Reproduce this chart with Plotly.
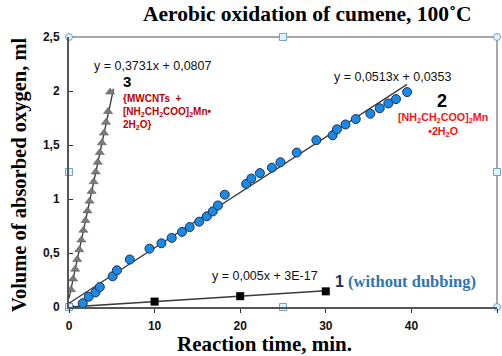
import plotly.graph_objects as go

# ---------------- data ----------------
# series 1: without dubbing (squares)
s1_x = [0, 10, 20, 30]
s1_y = [0, 0.05, 0.10, 0.145]

# series 2: [NH2CH2COO]2Mn·2H2O (circles)
s2_x = [0, 1.6, 2.3, 3.1, 3.6, 5.1, 5.6, 7.1, 9.4, 10.8, 12.0, 13.2, 14.1, 15.2, 16.1,
        16.8, 17.4, 18.2, 20.7, 21.3, 22.3, 23.7, 24.7, 26.6, 28.9, 30.8, 31.3, 32.3,
        33.5, 35.2, 36.3, 37.3, 38.2, 39.5]
s2_y = [0, 0.035, 0.095, 0.135, 0.185, 0.285, 0.34, 0.44, 0.54, 0.59, 0.64, 0.695, 0.74,
        0.79, 0.84, 0.885, 0.94, 1.04, 1.14, 1.19, 1.24, 1.29, 1.34, 1.43, 1.545, 1.59,
        1.645, 1.69, 1.74, 1.79, 1.84, 1.885, 1.925, 1.99]

# series 3: MWCNTs + [NH2CH2COO]2Mn·2H2O (triangles)
s3_x = [0, 0.24, 0.48, 0.72, 0.96, 1.2, 1.44, 1.68, 1.92, 2.16, 2.4, 2.64, 2.88, 3.12,
        3.36, 3.6, 3.84, 4.08, 4.32, 4.56, 4.8]
s3_y = [0, 0.16, 0.26, 0.35, 0.44, 0.53, 0.62, 0.71, 0.80, 0.89, 0.98, 1.07, 1.16, 1.25,
        1.34, 1.43, 1.52, 1.61, 1.71, 1.81, 1.99]

# trendline coefficients (slope, intercept) and x-ranges
trend_names = ["1", "2", "3"]
trend_slope = [0.005, 0.0513, 0.3731]
trend_icpt = [3e-17, 0.0353, 0.0807]
trend_xmin = [0, 0, 0]
trend_xmax = [30, 39.5, 5.2]

x_ticks = [0, 10, 20, 30, 40, 50]
y_ticks = [0, 0.5, 1, 1.5, 2, 2.5]
y_tick_text = ["0", "0,5", "1", "1,5", "2", "2,5"]

# ---------------- figure ----------------
W, H = 502, 356
L, R, T, B = 68.5, 5, 36.5, 48.5
pw, ph = W - L - R, H - T - B


def px(xp):
    return (xp - L) / pw


def py(yp):
    return 1 - (yp - T) / ph


fig = go.Figure()

# trendlines
for i in range(3):
    xs = [trend_xmin[i], trend_xmax[i]]
    ys = [trend_slope[i] * v + trend_icpt[i] for v in xs]
    fig.add_trace(go.Scatter(x=xs, y=ys, mode="lines",
                             line=dict(color="#3a3a3a", width=1.3 if i else 1.6),
                             showlegend=False, hoverinfo="skip"))

fig.add_trace(go.Scatter(x=s3_x, y=s3_y, mode="markers",
                         marker=dict(symbol="triangle-up", size=8, color="#7a7a7a",
                                     line=dict(width=0.5, color="#555555")),
                         showlegend=False))
fig.add_trace(go.Scatter(x=s2_x, y=s2_y, mode="markers",
                         marker=dict(symbol="circle", size=9, color="#1a8ae6",
                                     line=dict(width=1, color="#1f2f4f")),
                         showlegend=False))
fig.add_trace(go.Scatter(x=s1_x, y=s1_y, mode="markers",
                         marker=dict(symbol="square", size=8, color="#000000"),
                         showlegend=False))

# selection handles (decorative)
handle_x = [0, 50, 0, 25, 50, 25, 0, 50]
handle_y = [2.5, 2.5, 0, 0, 0, 2.5, 1.25, 1.25]
handle_sym = ["circle", "circle", "square", "square", "circle", "square", "square", "square"]
fig.add_trace(go.Scatter(x=handle_x, y=handle_y, mode="markers", cliponaxis=False,
                         marker=dict(symbol=handle_sym, size=7, color="#dff0f8",
                                     line=dict(width=1, color="#6aa7c8")),
                         showlegend=False, hoverinfo="skip"))

ann = []
eq_font = dict(family="Arial, Liberation Sans", size=12.5, color="#111111")
ann.append(dict(x=px(152.5), y=py(65.5), text="y = 0,3731x + 0,0807", showarrow=False,
                font=eq_font))
ann.append(dict(x=px(392.5), y=py(77), text="y = 0,0513x + 0,0353", showarrow=False,
                font=eq_font))
ann.append(dict(x=px(265), y=py(276.5), text="y = 0,005x + 3E-17", showarrow=False,
                font=eq_font))
ann.append(dict(x=px(127), y=py(81.5), text="<b>3</b>", showarrow=False,
                font=dict(family="Arial, Liberation Sans", size=15, color="#000000")))
ann.append(dict(x=px(442), y=py(101), text="<b>2</b>", showarrow=False,
                font=dict(family="Arial, Liberation Sans", size=18, color="#000000")))
ann.append(dict(x=px(121), y=py(91), xanchor="left", yanchor="top", align="left",
                text="<b>{MWCNTs  +<br>[NH<sub>2</sub>CH<sub>2</sub>COO]<sub>2</sub>Mn•<br>2H<sub>2</sub>O}</b>",
                showarrow=False,
                font=dict(family="Arial, Liberation Sans", size=10, color="#c00000")))
ann.append(dict(x=px(442.5), y=py(109), yanchor="top", align="center",
                text="<b>[NH<sub>2</sub>CH<sub>2</sub>COO]<sub>2</sub>Mn<br>•2H<sub>2</sub>O</b>",
                showarrow=False,
                font=dict(family="Arial, Liberation Sans", size=10.7, color="#ff1010")))
ann.append(dict(x=px(339.5), y=py(282), text="<b>1</b>", showarrow=False,
                font=dict(family="Arial, Liberation Sans", size=16, color="#1f3060")))
ann.append(dict(x=px(346), y=py(282), xanchor="left",
                text="<b>(without dubbing)</b>", showarrow=False,
                font=dict(family="Liberation Serif, Times New Roman", size=16.5, color="#2e75b6")))
# titles
ann.append(dict(x=px(307), y=py(13.5), text="<b>Aerobic oxidation of cumene, 100˚C</b>",
                showarrow=False,
                font=dict(family="Liberation Serif, Times New Roman", size=21.5, color="#000000")))
ann.append(dict(x=px(264.5), y=py(345), text="<b>Reaction time, min.</b>", showarrow=False,
                font=dict(family="Liberation Serif, Times New Roman", size=21, color="#000000")))
ann.append(dict(x=px(19.5), y=py(175), text="<b>Volume of absorbed oxygen, ml</b>",
                showarrow=False, textangle=-90,
                font=dict(family="Liberation Serif, Times New Roman", size=20.5, color="#000000")))
for a in ann:
    a.setdefault("xref", "paper")
    a.setdefault("yref", "paper")
    a.setdefault("xanchor", "center")
    a.setdefault("yanchor", "middle")

fig.update_layout(
    width=W, height=H,
    margin=dict(l=L, r=R, t=T, b=B, pad=0),
    paper_bgcolor="white", plot_bgcolor="white",
    annotations=ann,
    xaxis=dict(range=[0, 50], tickvals=x_ticks,
               ticktext=["<b>%d</b>" % v for v in x_ticks],
               showgrid=False, zeroline=False, showline=True, linecolor="#555555",
               linewidth=2, ticks="outside", ticklen=4, tickcolor="#333333",
               ticklabelstandoff=3,
               tickfont=dict(family="Arial, Liberation Sans", size=12, color="#111111"),
               mirror=False, fixedrange=True),
    yaxis=dict(range=[0, 2.5], tickvals=y_ticks,
               ticktext=["<b>%s</b>" % t for t in y_tick_text],
               showgrid=False, zeroline=False, showline=True, linecolor="#555555",
               linewidth=2, ticks="inside", ticklen=4, tickcolor="#333333",
               ticklabelstandoff=5,
               tickfont=dict(family="Arial, Liberation Sans", size=12, color="#111111"),
               fixedrange=True),
    shapes=[
        dict(type="line", xref="paper", yref="paper", x0=0, x1=1, y0=1, y1=1,
             line=dict(color="#8a8a8a", width=1.5), layer="below"),
        dict(type="line", xref="paper", yref="paper", x0=1, x1=1, y0=0, y1=1,
             line=dict(color="#8a8a8a", width=1.5), layer="below"),
    ],
)

fig.write_html("out.html", config={"displayModeBar": False})

# remove the browser's default page margin so the figure fills the window
with open("out.html", "r", encoding="utf-8") as f:
    html = f.read()
html = html.replace("<head>", "<head><style>html,body{margin:0;padding:0;overflow:hidden;}</style>", 1)
with open("out.html", "w", encoding="utf-8") as f:
    f.write(html)
